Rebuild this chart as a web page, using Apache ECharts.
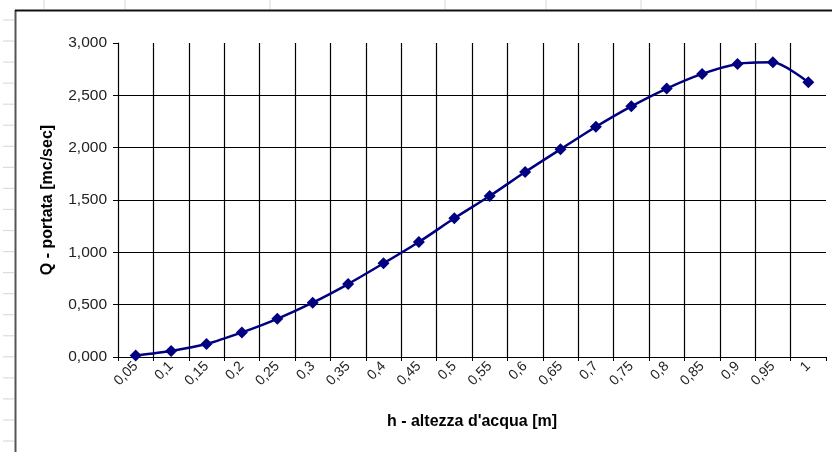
<!DOCTYPE html>
<html>
<head>
<meta charset="utf-8">
<script src="https://cdn.jsdelivr.net/npm/echarts@6/dist/echarts.min.js"></script>
<style>
html,body{margin:0;padding:0;background:#fff;}
#c{width:832px;height:452px;}
</style>
</head>
<body>
<div id="c"></div>
<script>
const categories = ['0,05','0,1','0,15','0,2','0,25','0,3','0,35','0,4','0,45','0,5','0,55','0,6','0,65','0,7','0,75','0,8','0,85','0,9','0,95','1'];
const portata = [0.015,0.058,0.124,0.235,0.365,0.519,0.697,0.895,1.099,1.325,1.538,1.767,1.985,2.200,2.395,2.565,2.705,2.800,2.815,2.625];
const yTicks = { min: 0, max: 3, interval: 0.5 };
const xTitle = "h - altezza d'acqua [m]";
const yTitle = 'Q - portata [mc/sec]';

const chart = echarts.init(document.getElementById('c'), null, {renderer:'canvas'});

// spreadsheet background decoration
const deco = [];
[44,125,270,445,546,641,756].forEach(x => deco.push({type:'line', shape:{x1:x,y1:0,x2:x,y2:9}, style:{stroke:'#d8d8d8', lineWidth:1}, silent:true}));
for (let i = 0; i < 21; i++) { const y = 20 + i*21.05; deco.push({type:'line', shape:{x1:3,y1:y,x2:14,y2:y}, style:{stroke:'#dcdcdc', lineWidth:1.2}, silent:true}); }
deco.push({type:'line', shape:{x1:15.5,y1:10,x2:15.5,y2:452}, style:{stroke:'#555', lineWidth:2}, silent:true});
deco.push({type:'line', shape:{x1:15,y1:10.5,x2:832,y2:10.5}, style:{stroke:'#111', lineWidth:2}, silent:true});

const FONT = 'Liberation Sans, Arial, sans-serif';
chart.setOption({
  animation:false,
  backgroundColor:'#fff',
  textStyle:{fontFamily:FONT},
  graphic: deco,
  grid:{left:118, right:6, top:43, bottom:95, containLabel:false},
  xAxis:{
    type:'category',
    data:categories,
    boundaryGap:true,
    name:xTitle,
    nameLocation:'middle',
    nameGap:57,
    nameTextStyle:{fontSize:16, fontWeight:'bold', color:'#000', fontFamily:FONT},
    axisLine:{lineStyle:{color:'#000', width:1.2}},
    axisTick:{show:true, length:4, alignWithLabel:false, lineStyle:{color:'#000'}},
    axisLabel:{rotate:45, fontSize:14, color:'#222', margin:7, interval:0, fontFamily:FONT},
    splitLine:{show:true, showMinLine:false, showMaxLine:false, lineStyle:{color:'#000', width:1.2}}
  },
  yAxis:{
    type:'value',
    min:yTicks.min, max:yTicks.max, interval:yTicks.interval,
    name:yTitle,
    nameLocation:'middle',
    nameGap:62,
    nameTextStyle:{fontSize:16, fontWeight:'bold', color:'#000', fontFamily:FONT},
    axisLine:{show:true, lineStyle:{color:'#000', width:1.2}},
    axisTick:{show:true, length:5, lineStyle:{color:'#000'}},
    axisLabel:{fontSize:15.5, color:'#222', margin:11, fontFamily:FONT, formatter:v => v.toFixed(3).replace('.',',')},
    splitLine:{show:true, showMaxLine:false, lineStyle:{color:'#000', width:1.2}}
  },
  series:[{
    type:'line',
    data:portata,
    smooth:0.25,
    lineStyle:{color:'#000080', width:2.5},
    itemStyle:{color:'#000080'},
    symbol:'path://M0,-1L1,0L0,1L-1,0Z',
    symbolSize:[12,12],
    showAllSymbol:true
  }]
});
</script>
</body>
</html>
